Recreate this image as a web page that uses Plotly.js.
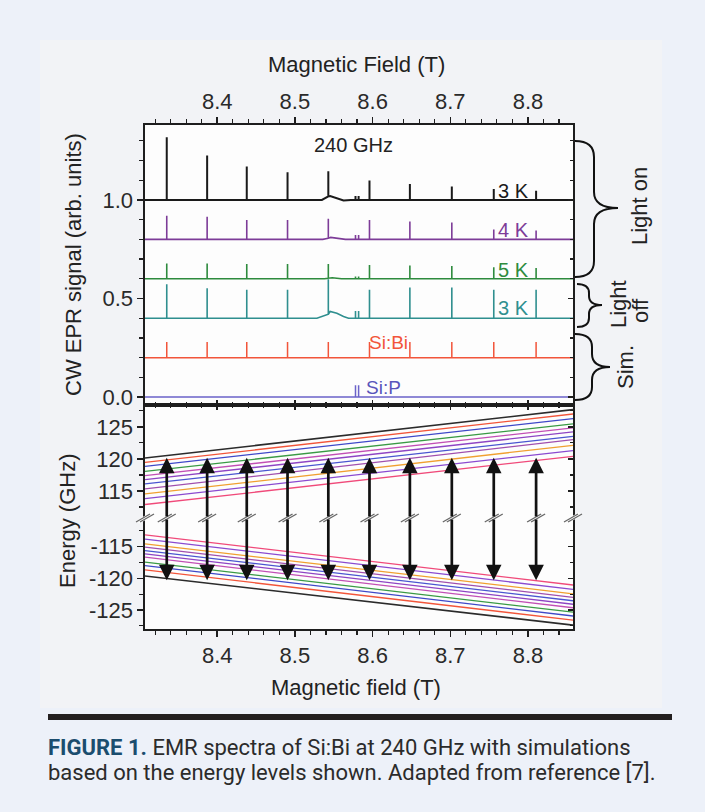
<!DOCTYPE html>
<html>
<head>
<meta charset="utf-8">
<script src="https://cdn.plot.ly/plotly-3.0.1.min.js"></script>
<style>
html, body { margin: 0; padding: 0; background: #edf1f9; }
#wrap { position: relative; width: 705px; height: 812px; overflow: hidden; }
#panel { position: absolute; left: 40px; top: 40px; width: 622px; height: 668px; background: #f2f3f6; }
#chart { position: absolute; left: 0; top: 0; width: 705px; height: 812px; }
#rule { position: absolute; left: 48px; top: 714px; width: 624px; height: 6px; background: #231f20; }
#caption { position: absolute; left: 48px; top: 735px; white-space: nowrap;
  font-family: Roboto, 'Liberation Sans', Arial, sans-serif; font-size: 22px; line-height: 25px; color: #2b2b2b; }
#caption b { color: #1b4d6e; }
</style>
</head>
<body>
<div id="wrap">
  <div id="panel"></div>
  <div id="chart"></div>
  <div id="rule"></div>
  <div id="caption"><b>FIGURE 1.</b> EMR spectra of Si:Bi at 240 GHz with simulations<br>based on the energy levels shown. Adapted from reference [7].</div>
</div>
<script>
// ---- field axis ----
const fieldRange = [8.307, 8.858];

// Si:Bi resonance fields (T) and the Si:P doublet
const peakField = [8.335, 8.387, 8.438, 8.4905, 8.543, 8.596, 8.648, 8.702, 8.756, 8.8105];
const siPField = [8.578, 8.582];

// ---- CW EPR spectra: baseline, line heights, Si:P heights, broad feature ----
const on3KBase = 1.0;
const on3KPeaks = [0.318, 0.225, 0.169, 0.140, 0.127, 0.098, 0.081, 0.068, 0.056, 0.046];
const on3KSiP = [0.02, 0.02];
const on3KHumpField = [8.5347, 8.5411, 8.543, 8.5454, 8.554, 8.5626, 8.572];
const on3KHumpOffset = [0, 0.0135, 0.018, 0.02, 0.007, -0.003, 0];

const on4KBase = 0.8;
const on4KPeaks = [0.120, 0.115, 0.098, 0.098, 0.098, 0.098, 0.090, 0.085, 0.050, 0.045];
const on4KSiP = [0.022, 0.022];
const on4KHumpField = [8.536, 8.543, 8.546, 8.556, 8.565];
const on4KHumpOffset = [0, 0.006, 0.01, 0.004, 0];

const on5KBase = 0.6;
const on5KPeaks = [0.078, 0.078, 0.075, 0.075, 0.072, 0.070, 0.068, 0.065, 0.058, 0.055];
const on5KSiP = [0.012, 0.012];
const on5KHumpField = [8.538, 8.543, 8.548, 8.56];
const on5KHumpOffset = [0, 0.003, 0.005, 0];

const off3KBase = 0.4;
const off3KPeaks = [0.173, 0.152, 0.144, 0.144, 0.178, 0.144, 0.156, 0.156, 0.144, 0.144];
const off3KSiP = [0.037, 0.037];
const off3KHumpField = [8.5283, 8.5411, 8.543, 8.5454, 8.554, 8.5626, 8.569];
const off3KHumpOffset = [0, 0.017, 0.02, 0.034, 0.025, 0.0085, 0];

const simBiBase = 0.2;
const simBiPeaks = [0.08, 0.08, 0.08, 0.08, 0.08, 0.08, 0.08, 0.08, 0.08, 0.08];

const simPBase = 0.0;
const simPSiP = [0.06, 0.06];

// ---- energy levels (GHz) at the two ends of the field range, outer -> inner ----
const upperLeft  = [120.15, 119.47, 118.85, 118.07, 117.40, 116.78, 116.10, 115.33, 114.55, 113.83, 112.90];
const upperRight = [127.68, 127.00, 126.28, 125.45, 124.83, 124.20, 123.52, 123.00, 122.12, 121.29, 120.40];
const lowerLeft  = [-119.64, -118.69, -118.00, -117.47, -116.68, -116.15, -115.63, -115.10, -114.57, -113.83, -113.15];
const lowerRight = [-127.39, -126.60, -125.95, -125.35, -124.65, -124.10, -123.55, -123.00, -122.45, -121.75, -121.06];
const levelColors = ['#2b2b2b', '#f2553a', '#3f48c8', '#3a9a45', '#c24fb5', '#8e44c4',
                     '#4a55d0', '#a04fae', '#f0a030', '#8a4ad0', '#f04a7a'];

// transition arrows (GHz)
const arrowTop = 120.2;
const arrowBottom = -120.3;

// tick labels
const signalTicks = [0.0, 0.5, 1.0];
const signalTickText = ['0.0', '0.5', '1.0'];
const upperTicks = [115, 120, 125];
const upperTickText = ['115', '120', '125'];
const lowerTicks = [-125, -120, -115];
const lowerTickText = ['-125', '-120', '-115'];

// ---- geometry helpers (pixel -> paper) ----
const L = 145, R = 573, T = 125, B = 629;
const X = px => (px - L) / (R - L);
const Y = py => (B - py) / (B - T);
const breakY = Y(518);
const splitY = Y(405);

// builds one spectrum line: flat baseline, narrow lines, Si:P doublet, broad feature
function spectrum(base, peaks, sip, humpF, humpO) {
  const pts = [[fieldRange[0], base], [fieldRange[1], base]];
  humpF = humpF || []; humpO = humpO || [];
  humpF.forEach((f, i) => { if (!peakField.includes(f)) pts.push([f, base + humpO[i]]); });
  if (peaks) peakField.forEach((f, i) => {
    const j = humpF.indexOf(f);
    const foot = base + (j >= 0 ? humpO[j] : 0);
    pts.push([f, foot], [f, foot + peaks[i]], [f, foot]);
  });
  if (sip) siPField.forEach((f, i) => pts.push([f, base], [f, base + sip[i]], [f, base]));
  pts.sort((a, b) => a[0] - b[0]);
  return { x: pts.map(p => p[0]), y: pts.map(p => p[1]) };
}

const traces = [];
function addSpectrum(s, color, width) {
  traces.push({ type: 'scatter', mode: 'lines', x: s.x, y: s.y, xaxis: 'x', yaxis: 'y',
    line: { color: color, width: width }, hoverinfo: 'skip', showlegend: false });
}
addSpectrum(spectrum(simPBase, null, simPSiP), '#6b63c9', 1.5);
addSpectrum(spectrum(simBiBase, simBiPeaks, null), '#f2553a', 1.5);
addSpectrum(spectrum(off3KBase, off3KPeaks, off3KSiP, off3KHumpField, off3KHumpOffset), '#2f8f8f', 1.6);
addSpectrum(spectrum(on5KBase, on5KPeaks, on5KSiP, on5KHumpField, on5KHumpOffset), '#2e8b3e', 1.6);
addSpectrum(spectrum(on4KBase, on4KPeaks, on4KSiP, on4KHumpField, on4KHumpOffset), '#7d3c98', 1.6);
addSpectrum(spectrum(on3KBase, on3KPeaks, on3KSiP, on3KHumpField, on3KHumpOffset), '#1a1a1a', 2);

upperLeft.forEach((e, i) => traces.push({ type: 'scatter', mode: 'lines', x: fieldRange,
  y: [e, upperRight[i]], xaxis: 'x2', yaxis: 'y2', hoverinfo: 'skip', showlegend: false,
  line: { color: levelColors[i], width: i === 0 ? 1.6 : 1.3 } }));
lowerLeft.forEach((e, i) => traces.push({ type: 'scatter', mode: 'lines', x: fieldRange,
  y: [e, lowerRight[i]], xaxis: 'x2', yaxis: 'y3', hoverinfo: 'skip', showlegend: false,
  line: { color: levelColors[i], width: i === 0 ? 1.6 : 1.3 } }));

// empty traces so the mirror axes get drawn
[['x3', 'y'], ['x', 'y4'], ['x4', 'y2'], ['x2', 'y5'], ['x2', 'y6']].forEach(p =>
  traces.push({ type: 'scatter', mode: 'lines', x: [null], y: [null], xaxis: p[0], yaxis: p[1],
    hoverinfo: 'skip', showlegend: false }));

// ---- axes ----
const ink = '#1e1e1e';
const tickFont = { family: 'Liberation Sans, Arial, sans-serif', size: 22, color: '#2a2a2a' };
function axis(extra) {
  return Object.assign({ showline: true, linecolor: ink, linewidth: 1.6, mirror: false,
    ticks: 'outside', ticklen: 6, tickwidth: 1.5, tickcolor: ink, zeroline: false,
    showgrid: false, tickfont: tickFont, fixedrange: true }, extra);
}
const fieldTicks = { tickmode: 'linear', tick0: 8.4, dtick: 0.1, tickformat: '.1f', range: fieldRange };
const fieldMinorOut = { tickmode: 'linear', tick0: 8.4, dtick: 0.02, ticklen: 4, tickwidth: 1.2, ticks: 'outside', tickcolor: ink };
const fieldMinorIn = Object.assign({}, fieldMinorOut, { ticks: 'inside', ticklen: 3 });
const energyMinorOut = { tickmode: 'linear', tick0: 0, dtick: 2.5, ticklen: 4, tickwidth: 1.2, ticks: 'outside', tickcolor: ink };
const energyMinorIn = Object.assign({}, energyMinorOut, { ticks: 'inside', ticklen: 3 });

const layout = {
  width: 705, height: 812,
  margin: { l: L, r: 705 - R, t: T, b: 812 - B, pad: 0 },
  paper_bgcolor: 'rgba(0,0,0,0)', plot_bgcolor: '#fdfdfd',
  font: { family: 'Liberation Sans, Arial, sans-serif', size: 22, color: '#2a2a2a' },
  showlegend: false,
  xaxis: axis(Object.assign({ domain: [0, 1], anchor: 'y', side: 'top', minor: fieldMinorOut }, fieldTicks)),
  xaxis3: axis(Object.assign({ overlaying: 'x', anchor: 'y', side: 'bottom', ticks: 'inside', ticklen: 5,
    showticklabels: false, minor: fieldMinorIn }, fieldTicks)),
  yaxis: axis({ domain: [splitY, 1], anchor: 'x', range: [-0.04, 1.38], tickmode: 'array',
    tickvals: signalTicks, ticktext: signalTickText,
    minor: { tickmode: 'linear', tick0: 0, dtick: 0.1, ticklen: 4, tickwidth: 1.2, ticks: 'outside', tickcolor: ink } }),
  yaxis4: axis({ overlaying: 'y', anchor: 'x', side: 'right', range: [-0.04, 1.38], tickmode: 'array',
    tickvals: signalTicks, ticks: 'inside', ticklen: 5, showticklabels: false,
    minor: { tickmode: 'linear', tick0: 0, dtick: 0.1, ticklen: 3, tickwidth: 1.2, ticks: 'inside', tickcolor: ink } }),
  xaxis2: axis(Object.assign({ domain: [0, 1], anchor: 'y3', side: 'bottom', minor: fieldMinorOut }, fieldTicks)),
  xaxis4: axis(Object.assign({ overlaying: 'x2', anchor: 'y2', side: 'top', ticks: 'inside', ticklen: 5,
    showticklabels: false, minor: fieldMinorIn }, fieldTicks)),
  yaxis2: axis({ domain: [breakY, splitY], anchor: 'x2', range: [110.8, 128.4], tickmode: 'array',
    tickvals: upperTicks, ticktext: upperTickText, minor: energyMinorOut }),
  yaxis5: axis({ overlaying: 'y2', anchor: 'x2', side: 'right', range: [110.8, 128.4], tickmode: 'array',
    tickvals: upperTicks, ticks: 'inside', ticklen: 5, showticklabels: false, minor: energyMinorIn }),
  yaxis3: axis({ domain: [0, breakY], anchor: 'x2', range: [-128, -110.5], tickmode: 'array',
    tickvals: lowerTicks, ticktext: lowerTickText, minor: energyMinorOut }),
  yaxis6: axis({ overlaying: 'y3', anchor: 'x2', side: 'right', range: [-128, -110.5], tickmode: 'array',
    tickvals: lowerTicks, ticks: 'inside', ticklen: 5, showticklabels: false, minor: energyMinorIn }),
  annotations: [],
  shapes: []
};

// ---- text ----
const ann = layout.annotations;
function paperText(text, px, py, size, angle) {
  ann.push({ text: text, xref: 'paper', yref: 'paper', x: X(px), y: Y(py), xanchor: 'center', yanchor: 'middle',
    showarrow: false, textangle: angle || 0, font: { size: size, color: '#222' } });
}
paperText('Magnetic Field (T)', 356, 65, 22);
paperText('Magnetic field (T)', 356, 687, 22);
paperText('CW EPR signal (arb. units)', 73, 265, 22, -90);
paperText('Energy (GHz)', 67, 521, 22, -90);
paperText('Light on', 639, 206, 22, -90);
paperText('Light', 618, 304, 22, -90);
paperText('off', 640, 311, 22, -90);
paperText('Sim.', 625, 367, 22, -90);

function dataText(text, x, y, color, size) {
  ann.push({ text: text, xref: 'x', yref: 'y', x: x, y: y, xanchor: 'center', yanchor: 'middle',
    showarrow: false, font: { size: size, color: color } });
}
dataText('240 GHz', 8.575, 1.28, '#222', 20);
dataText('3 K', 8.781, 1.046, '#1a1a1a', 20);
dataText('4 K', 8.781, 0.848, '#7d3c98', 20);
dataText('5 K', 8.781, 0.645, '#2e8b3e', 20);
dataText('3 K', 8.781, 0.452, '#2f8f8f', 20);
dataText('Si:Bi', 8.621, 0.279, '#f2553a', 19);
dataText('Si:P', 8.614, 0.05, '#5a55bb', 19);

// ---- transition arrows, split at the axis break ----
peakField.forEach(f => {
  ann.push({ text: '', xref: 'x2', yref: 'y2', axref: 'x2', ayref: 'y2', x: f, y: arrowTop, ax: f, ay: 110.8,
    showarrow: true, arrowhead: 2, arrowsize: 1.15, arrowwidth: 2.7, arrowcolor: '#111', standoff: 0, startstandoff: 0 });
  ann.push({ text: '', xref: 'x2', yref: 'y3', axref: 'x2', ayref: 'y3', x: f, y: arrowBottom, ax: f, ay: -110.5,
    showarrow: true, arrowhead: 2, arrowsize: 1.15, arrowwidth: 2.7, arrowcolor: '#111', standoff: 0, startstandoff: 0 });
});

// ---- break marks ----
const shp = layout.shapes;
function breakMark(xref, xanchor) {
  const base = { type: 'line', xref: xref, yref: 'paper', xsizemode: 'pixel', ysizemode: 'pixel',
    xanchor: xanchor, yanchor: breakY, layer: 'above' };
  shp.push(Object.assign({}, base, { x0: -7, x1: 7, y0: -4, y1: 4, line: { color: '#fdfdfd', width: 4 } }));
  shp.push(Object.assign({}, base, { x0: -9, x1: 5, y0: -4, y1: 4, line: { color: '#666', width: 1.3 } }));
  shp.push(Object.assign({}, base, { x0: -5, x1: 9, y0: -4, y1: 4, line: { color: '#666', width: 1.3 } }));
}
peakField.forEach(f => breakMark('x2', f));
breakMark('paper', 0);
breakMark('paper', 1);

// ---- curly braces on the right ----
function brace(x0, xs, xt, yT, yM, yB, r) {
  const p = (a, b) => X(a) + ',' + Y(b);
  return 'M ' + p(x0, yT) + ' Q ' + p(xs, yT) + ' ' + p(xs, yT + r) +
    ' L ' + p(xs, yM - r) + ' Q ' + p(xs, yM) + ' ' + p(xt, yM) +
    ' Q ' + p(xs, yM) + ' ' + p(xs, yM + r) +
    ' L ' + p(xs, yB - r) + ' Q ' + p(xs, yB) + ' ' + p(x0, yB);
}
[[575, 594, 618, 141, 208, 277, 16], [577, 589, 602, 284, 305, 327, 9], [575, 592, 610, 334, 367, 400, 13]]
  .forEach(b => shp.push({ type: 'path', xref: 'paper', yref: 'paper', path: brace.apply(null, b),
    line: { color: '#111', width: 2 } }));

Plotly.newPlot('chart', traces, layout, { staticPlot: true, displayModeBar: false });
</script>
</body>
</html>
